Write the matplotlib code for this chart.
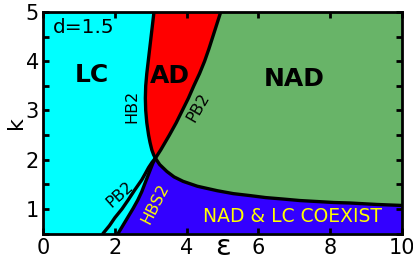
import numpy as np
import matplotlib
matplotlib.use("Agg")
import matplotlib.pyplot as plt

# =========================
# BOUNDARY DATA (eps, k)
# =========================
# HB2: LC / AD boundary, from the crossing point up to k=5
hb2_k = [2.03, 2.1, 2.2, 2.35, 2.5, 2.75, 3.0, 3.25, 3.5, 3.75, 4.0, 4.25, 4.5, 4.75, 5.0]
hb2_eps = [3.13, 3.08, 3.03, 2.98, 2.94, 2.89, 2.86, 2.85, 2.86, 2.89, 2.93, 2.97, 3.01, 3.05, 3.09]

# PB2 (upper): AD / NAD boundary
pb2u_k = [2.03, 2.2, 2.5, 2.75, 3.0, 3.25, 3.5, 3.75, 4.0, 4.25, 4.5, 4.75, 5.0]
pb2u_eps = [3.13, 3.28, 3.52, 3.71, 3.88, 4.05, 4.2, 4.36, 4.5, 4.62, 4.73, 4.84, 4.95]

# NAD lower boundary (NAD / coexistence)
nad_eps = [3.13, 3.25, 3.45, 3.65, 3.9, 4.3, 4.85, 5.3, 5.77, 6.2, 6.69, 7.15,
           7.63, 8.1, 8.55, 9.3, 10.0]
nad_k = [2.03, 1.9, 1.76, 1.65, 1.56, 1.46, 1.37, 1.31, 1.27, 1.23, 1.2, 1.17,
         1.15, 1.13, 1.12, 1.09, 1.07]

# PB2 (lower)
pb2l_eps = [1.67, 1.85, 2.0, 2.2, 2.37, 2.55, 2.75, 2.85, 2.94, 3.04, 3.13]
pb2l_k = [0.5, 0.66, 0.82, 1.0, 1.18, 1.38, 1.59, 1.72, 1.84, 1.95, 2.03]

# HBS2
hbs2_eps = [2.09, 2.23, 2.37, 2.51, 2.64, 2.75, 2.84, 2.92, 2.99, 3.06, 3.13]
hbs2_k = [0.5, 0.67, 0.84, 1.01, 1.18, 1.35, 1.52, 1.67, 1.8, 1.93, 2.03]

xlim = (0, 10)
ylim = (0.5, 5)

# =========================
# FIGURE
# =========================
fig = plt.figure(figsize=(4.14, 2.64), dpi=100)
ax = fig.add_axes([0.104, 0.1155, 0.867, 0.839])
ax.set_facecolor("#00FFFF")

red = "#FF0000"
green = "#68B468"
blue = "#3300FF"

# blue region: right of HBS2, below NAD boundary
bx = hbs2_eps + nad_eps[1:] + [xlim[1]]
by = hbs2_k + nad_k[1:] + [ylim[0]]
ax.fill(bx, by, color=blue, lw=0)

# green region: right of PB2 upper, above NAD boundary
gx = pb2u_eps + [xlim[1]] + nad_eps[::-1][:-1]
gy = pb2u_k + [ylim[1]] + nad_k[::-1][:-1]
ax.fill(gx, gy, color=green, lw=0)

# red region: between HB2 and PB2 upper
rx = hb2_eps + pb2u_eps[::-1]
ry = hb2_k + pb2u_k[::-1]
ax.fill(rx, ry, color=red, lw=0)

lw = 2.4
for xs, ys in [(hb2_eps, hb2_k), (pb2u_eps, pb2u_k), (nad_eps, nad_k),
               (pb2l_eps, pb2l_k), (hbs2_eps, hbs2_k)]:
    ax.plot(xs, ys, color="black", lw=lw, solid_joinstyle="round",
            solid_capstyle="round")

# =========================
# LABELS
# =========================
ax.text(0.28, 4.68, "d=1.5", fontsize=14.5, va="center", ha="left")
ax.text(1.36, 3.73, "LC", fontsize=18, fontweight="bold", ha="center", va="center")
ax.text(3.54, 3.69, "AD", fontsize=18, fontweight="bold", ha="center", va="center")
ax.text(7.0, 3.63, "NAD", fontsize=18, fontweight="bold", ha="center", va="center")
ax.text(2.47, 3.08, "HB2", fontsize=11.5, rotation=90, ha="center", va="center")
ax.text(4.32, 3.06, "PB2", fontsize=11.5, rotation=60, ha="center", va="center")
ax.text(2.14, 1.29, "PB2", fontsize=11.5, rotation=42, ha="center", va="center")
ax.text(3.12, 1.1, "HBS2", fontsize=11.5, rotation=63, ha="center", va="center",
        color="yellow")
ax.text(6.94, 0.84, "NAD & LC COEXIST", fontsize=13.5, ha="center", va="center",
        color="yellow")

ax.set_xlim(*xlim)
ax.set_ylim(*ylim)
ax.set_xticks([0, 2, 4, 6, 8, 10])
ax.set_yticks([1, 2, 3, 4, 5])
ax.set_yticks(np.arange(0.5, 5.01, 0.5), minor=True)
ax.tick_params(which="both", direction="in", top=True, right=True,
               length=4, width=2, labelsize=15, pad=3)
for s in ax.spines.values():
    s.set_linewidth(2)

ax.set_xlabel("ε", fontsize=21, va="baseline")
ax.xaxis.set_label_coords(0.5, -0.097)
ax.set_ylabel("k", fontsize=16, labelpad=0)

fig.savefig("out.png", dpi=100)
